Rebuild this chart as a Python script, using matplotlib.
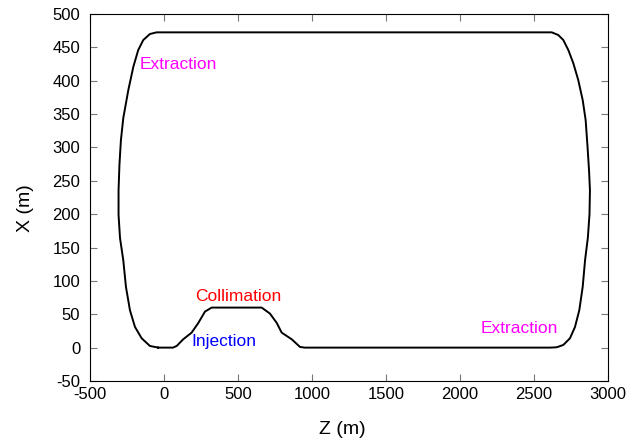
import matplotlib
matplotlib.use('Agg')
import matplotlib.pyplot as plt

plt.rcParams['font.family'] = ['Liberation Sans', 'DejaVu Sans']
plt.rcParams['axes.unicode_minus'] = False

# ring layout (Z, X in metres), closed loop
z_ring = [-39, 0, 61, 86, 130, 187, 232, 277, 322, 660, 716, 762, 795, 863, 919, 952,
          2608, 2653, 2698, 2743, 2777, 2806, 2829, 2845, 2864, 2875, 2878, 2872, 2862,
          2849, 2829, 2799, 2766, 2732, 2698, 2664, 2620,
          -50, -95, -140, -174, -207, -241, -275, -291, -301, -307, -307, -297, -275,
          -257, -230, -196, -151, -95, -39]
x_ring = [0, 0, 0, 2.5, 12.5, 22.5, 37, 54, 60, 60, 51, 37, 22.5, 12.5, 1, 0,
          0, 0.5, 4, 14, 31, 56, 91, 131, 165, 200, 236, 265, 300,
          341, 371, 401, 426, 446, 461, 468.5, 472.5,
          472.5, 470, 461, 446, 421, 386, 344, 311, 274, 236, 199, 164, 131,
          91, 56, 31, 14, 2.5, 0]

labels = ['Extraction', 'Extraction', 'Collimation', 'Injection']
label_z = [-162, 2142, 209, 182]
label_x = [424, 28, 77, 8.5]
label_colors = ['#ff00ff', '#ff00ff', '#ff0000', '#0000ff']

fig = plt.figure(figsize=(6.4, 4.43), dpi=100)
ax = fig.add_axes([0.1406, 0.14, 0.8094, 0.8284])
ax.plot(z_ring, x_ring, color='black', lw=1.4)

for t, zz, xx, c in zip(labels, label_z, label_x, label_colors):
	ax.text(zz, xx, t, color=c, fontsize=12.5, ha='left', va='center')

ax.set_xlim(-500, 3000)
ax.set_ylim(-50, 500)
ax.set_xticks(range(-500, 3001, 500))
ax.set_yticks(range(-50, 501, 50))
ax.tick_params(direction='in', length=5, color='#777777', labelsize=12,
               top=True, right=True)
ax.tick_params(axis='x', pad=4.5)
ax.tick_params(axis='y', pad=7)
ax.set_xlabel('Z (m)', fontsize=14)
ax.set_ylabel('X (m)', fontsize=14)
ax.xaxis.set_label_coords(0.487, -0.108)
ax.yaxis.set_label_coords(-0.108, 0.47)
plt.savefig('out.png')
